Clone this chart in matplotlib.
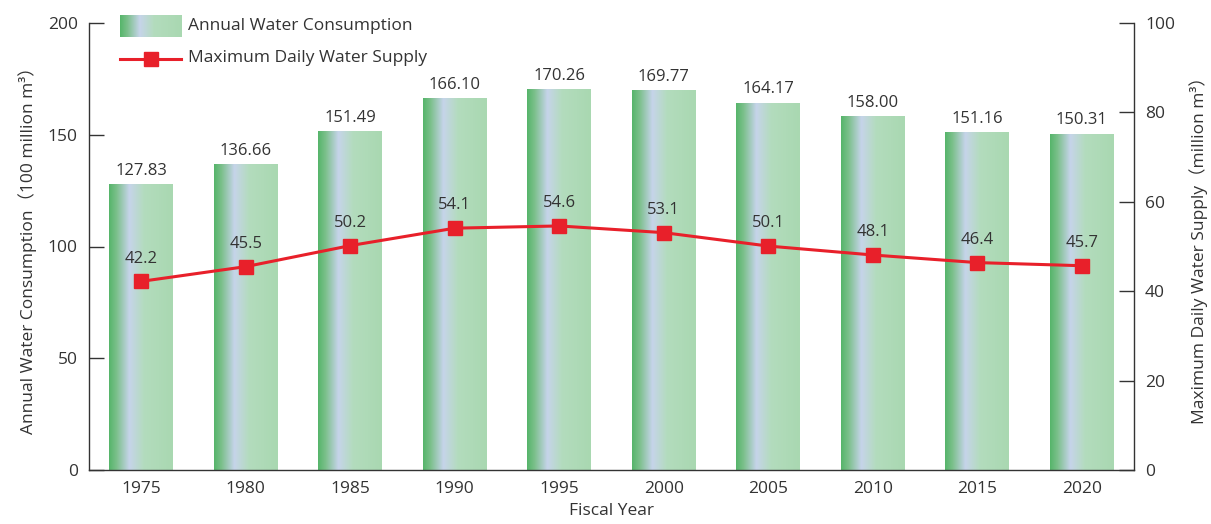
import numpy as np
import matplotlib.pyplot as plt
from matplotlib.colors import LinearSegmentedColormap

plt.rcParams['font.family'] = ['Open Sans', 'Noto Sans CJK JP', 'DejaVu Sans']

# данные
years = ['1975', '1980', '1985', '1990', '1995', '2000', '2005', '2010', '2015', '2020']
consumption = [127.83, 136.66, 151.49, 166.10, 170.26, 169.77, 164.17, 158.00, 151.16, 150.31]
max_supply = [42.2, 45.5, 50.2, 54.1, 54.6, 53.1, 50.1, 48.1, 46.4, 45.7]

txt = '#333333'
red = '#e8202a'
grad_cmap = LinearSegmentedColormap.from_list(
    'bar', [(0.0, '#55b56a'), (0.12, '#7cc08c'), (0.32, '#c6d4ea'),
            (0.55, '#b3dcbd'), (1.0, '#a9d8b1')])
grad = np.linspace(0, 1, 256).reshape(1, -1)

W, H = 1211, 524
fig = plt.figure(figsize=(W / 100, H / 100), dpi=100)
ax = fig.add_axes([89 / W, 54 / H, 1045 / W, 447 / H])
ax2 = ax.twinx()

x = np.arange(len(years))
w = 0.61
for xi, v in zip(x, consumption):
    ax.imshow(grad, cmap=grad_cmap, aspect='auto', interpolation='bilinear',
              extent=[xi - w / 2, xi + w / 2, 0, v], zorder=1)
    ax.text(xi, v + 2.5, f'{v:.2f}', ha='center', va='bottom', fontsize=12, color=txt)

ax.set_xlim(-0.5, 9.5)
ax.set_ylim(0, 200)
ax.set_yticks([0, 50, 100, 150, 200])
ax.set_xticks(x)
ax.set_xticklabels(years)

ax2.plot(x, max_supply, color=red, lw=2.2, marker='s', markersize=10, zorder=3)
for xi, v in zip(x, max_supply):
    ax2.text(xi, v + 3.3, f'{v:.1f}', ha='center', va='bottom', fontsize=12, color=txt)
ax2.set_ylim(0, 100)
ax2.set_yticks([0, 20, 40, 60, 80, 100])

for a in (ax, ax2):
    a.spines['top'].set_visible(False)
    for s in a.spines.values():
        s.set_color('#333333')
        s.set_linewidth(1.0)
ax.spines['right'].set_visible(False)
ax2.spines['left'].set_visible(False)
ax2.spines['bottom'].set_visible(False)

ax.tick_params(axis='y', direction='in', length=11, width=1, colors=txt, labelsize=12.5, pad=8)
ax.tick_params(axis='x', length=0, colors=txt, labelsize=12.5, pad=8)
ax2.tick_params(axis='y', direction='in', length=11, width=1, colors=txt, labelsize=12.5, pad=8)

ax.set_ylabel('Annual Water Consumption（100 million m³）', fontsize=12.5, color=txt, labelpad=8)
ax2.set_ylabel('Maximum Daily Water Supply（million m³）', fontsize=12.5, color=txt, labelpad=10)
ax.set_xlabel('Fiscal Year', fontsize=12.5, color=txt, labelpad=4)

# легенда вручную, в пикселях фигуры
def fx(px):
    return px / W

def fy(py):
    return 1 - py / H

leg = fig.add_axes([fx(120), fy(37), fx(181) - fx(120), fy(15) - fy(37)])
leg.imshow(grad, cmap=grad_cmap, aspect='auto', interpolation='bilinear')
leg.axis('off')
fig.text(fx(188), fy(26), 'Annual Water Consumption', va='center', ha='left',
         fontsize=12.5, color=txt)
fig.add_artist(plt.Line2D([fx(120), fx(181)], [fy(59), fy(59)], color=red, lw=2.2,
                          transform=fig.transFigure))
fig.add_artist(plt.Line2D([fx(150.5)], [fy(59)], color=red, marker='s', markersize=10,
                          transform=fig.transFigure))
fig.text(fx(188), fy(58), 'Maximum Daily Water Supply', va='center', ha='left',
         fontsize=12.5, color=txt)

fig.savefig('out.png', dpi=100)
